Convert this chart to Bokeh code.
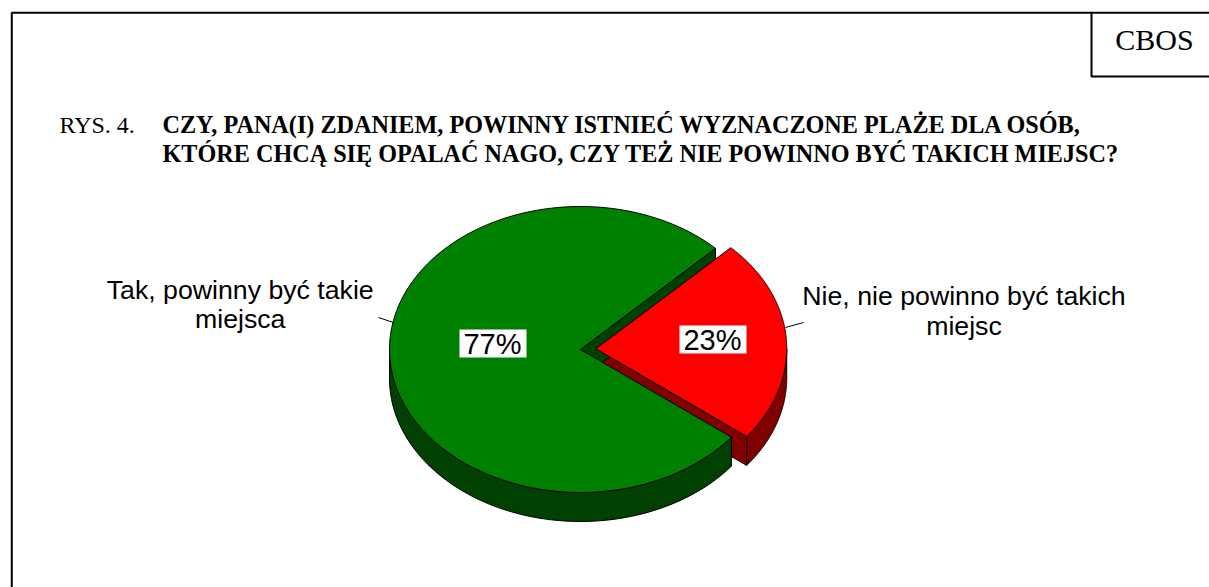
import numpy as np
from bokeh.plotting import figure
from bokeh.models import Range1d
from bokeh.core.properties import value
from bokeh.embed import file_html
from bokeh.resources import INLINE

# ---- data ----
categories = ["Nie, nie powinno być takich miejsc", "Tak, powinny być takie miejsca"]
shares = [23, 77]
pct_labels = ["23%", "77%"]
top_colors = ["#FF0000", "#008000"]
side_colors = ["#800000", "#004000"]
explode = [0.08, 0.0]

title_prefix = "RYS. 4."
title_lines = ["CZY, PANA(I) ZDANIEM, POWINNY ISTNIEĆ WYZNACZONE PLAŻE DLA OSÓB,",
               "KTÓRE CHCĄ SIĘ OPALAĆ NAGO, CZY TEŻ NIE POWINNO BYĆ TAKICH MIEJSC?"]
callout_lines = [["Nie, nie powinno być takich", "miejsc"],
                 ["Tak, powinny być takie", "miejsca"]]

# ---- layout ----
W, H = 1209, 587
p = figure(width=W, height=H, x_range=Range1d(0, W), y_range=Range1d(H, 0),
           output_backend="svg", toolbar_location=None, min_border=0)
p.axis.visible = False
p.grid.visible = False
p.outline_line_color = None
p.background_fill_color = "white"
p.border_fill_color = "white"

CX, CY, RX, RY, DEPTH = 580.0, 349.0, 191.0, 143.0, 29.0
START = 45.0
BL = 0.4  # baseline compensation (em)


def rim(cx, cy, ang):
    r = np.radians(ang)
    return cx + RX * np.cos(r), cy - RY * np.sin(r)


total = float(sum(shares))
slices = []
a = START
for v, e in zip(shares, explode):
    span = 360.0 * v / total
    a0, a1 = a, a - span
    mid = np.radians((a0 + a1) / 2)
    cx = CX + e * RX * np.cos(mid)
    cy = CY - e * RY * np.sin(mid)
    slices.append((a0, a1, cx, cy))
    a = a1

# side walls (drawn first)
for (a0, a1, cx, cy), sc in zip(slices, side_colors):
    wx, wy = [], []
    for k in range(-2, 3):
        lo = max(a1, -180.0 + 360 * k)
        hi = min(a0, 360.0 * k)
        if hi > lo:
            ang = np.linspace(lo, hi, 120)
            tx, ty = rim(cx, cy, ang)
            wx.append(list(np.concatenate([tx, tx[::-1]])))
            wy.append(list(np.concatenate([ty, (ty + DEPTH)[::-1]])))
    for edge, normal in ((a0, a0 + 90), (a1, a1 - 90)):
        if np.sin(np.radians(normal)) < 0:
            ex, ey = rim(cx, cy, edge)
            wx.append([cx, ex, ex, cx])
            wy.append([cy, ey, ey + DEPTH, cy + DEPTH])
    if wx:
        p.patches(wx, wy, fill_color=sc, line_color="black", line_width=1)

# top faces
for (a0, a1, cx, cy), tc in zip(slices, top_colors):
    ang = np.linspace(a0, a1, 300)
    tx, ty = rim(cx, cy, ang)
    xs = [cx] + list(tx) + [cx]
    ys = [cy] + list(ty) + [cy]
    p.patch(xs, ys, fill_color=tc, line_color="black", line_width=1)


def txt(xs, ys, texts, size, font="Liberation Sans", align="center", style="normal"):
    p.text(xs, [y - BL * size for y in ys], text=texts, text_font=value(font),
           text_font_size=f"{size}px", text_font_style=style, text_align=align,
           text_baseline="alphabetic", text_color="black")


# percentage labels with white boxes
box_x = [712.5, 492.5]
box_y = [339.0, 343.0]
p.rect(box_x, box_y, width=67, height=28, width_units="screen", height_units="screen",
       fill_color="white", line_color=None)
txt([bx - 0.5 for bx in box_x], [by + 12.5 for by in box_y], pct_labels, 29)

# callout labels
call_x = [963.5, 239.7]
call_y = [306.5, 300.0]
for lines, cx0, cy0 in zip(callout_lines, call_x, call_y):
    txt([cx0] * len(lines), [cy0 + 29.5 * i for i in range(len(lines))], lines, 26.7)

# leader lines
p.segment(x0=[785, 378], y0=[327, 317], x1=[803, 393], y1=[322, 322],
          line_color="black", line_width=1)

# title
txt([59], [134], [title_prefix], 24, font="Liberation Serif", align="left")
txt([162, 162], [134, 163], title_lines, 24.2, font="Liberation Serif", align="left", style="bold")

# frame and CBOS box
p.line([11.3, 11.3, W], [H, 12.3, 12.3], line_color="black", line_width=2)
p.line([1091, 1091, W], [12.3, 76, 76], line_color="black", line_width=2)
txt([1154], [51], ["CBOS"], 30, font="Liberation Serif")

open("out.html", "w").write(file_html(p, INLINE))
